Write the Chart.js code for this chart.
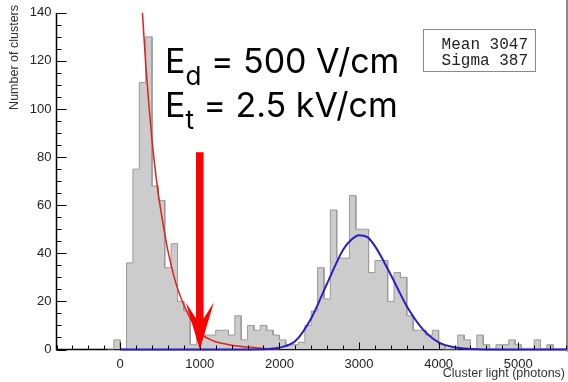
<!DOCTYPE html>
<html>
<head>
<meta charset="utf-8">
<script src="https://cdn.jsdelivr.net/npm/chart.js@4.4.0/dist/chart.umd.min.js"></script>
<style>
  html, body { margin: 0; padding: 0; background: #fff; }
  #wrap { position: relative; width: 568px; height: 382px; }
</style>
</head>
<body>
<div id="wrap"><canvas id="clusterChart"></canvas></div>
<script>
// histogram: 80 photon wide bins, first bin starts at -160
const binWidth = 80;
const firstEdge = -160;
const counts = [
  0, 4, 0, 36, 75, 111, 130, 68, 62, 34, 44, 20, 16, 2,
  6, 6, 6, 8, 8, 6, 14, 4, 10, 8, 10, 8, 6, 4, 2, 2, 3,
  10, 16, 34, 21, 58, 38, 38, 64, 50, 50, 32, 37, 37, 20, 32, 30,
  14, 8, 8, 6, 8, 2, 0, 0, 6, 4, 0, 6, 2, 0, 2, 2, 4, 2,
  0, 0, 4, 0, 2, 0, 0
];

// exponential fit (red)
const redX = [280, 320, 360, 400, 450, 500, 550, 600, 700, 800, 900, 1000, 1100, 1200, 1400, 1600, 1800, 2000];
const redY = [140, 119, 102, 87, 72, 60, 50, 41, 27.5, 18.5, 11.8, 7, 4.6, 3.2, 1.8, 1.0, 0.45, 0.2];

// gaussian fit (blue)
const blueX = [0, 1400, 1800, 2000, 2200, 2400, 2600, 2800, 2900, 3000, 3100, 3200, 3400, 3600, 3800, 4000, 4200, 4400, 4600, 5600];
const blueY = [0, 0, 0.1, 0.8, 3.5, 13, 27.5, 41.5, 45.5, 47.5, 46.8, 43, 31, 18, 8.5, 3, 0.9, 0.2, 0, 0];

const xTickLabels = [0, 1000, 2000, 3000, 4000, 5000];
const yTickLabels = [0, 20, 40, 60, 80, 100, 120, 140];

// threshold arrow
const arrowX = 1000;
const arrowTop = 82;

const statsLines = ['Mean 3047', 'Sigma 387'];

// step outline: two points per bin
const histPoints = [];
counts.forEach((c, i) => {
  const lo = firstEdge + i * binWidth;
  histPoints.push({ x: lo, y: c }, { x: lo + binWidth, y: c });
});

const toPoints = (xs, ys) => xs.map((x, i) => ({ x, y: ys[i] }));

const rootAxes = {
  id: 'rootAxes',
  beforeDatasetsDraw(chart) {
    const { ctx, chartArea: a } = chart;
    ctx.save();
    ctx.strokeStyle = '#000';
    ctx.lineWidth = 1.5;
    ctx.beginPath();
    ctx.moveTo(a.left, a.top);
    ctx.lineTo(a.left, a.bottom);
    ctx.lineTo(a.right, a.bottom);
    ctx.stroke();
    ctx.strokeStyle = '#8a8a8a';
    ctx.lineWidth = 2;
    ctx.beginPath();
    ctx.moveTo(a.right + 1, 0);
    ctx.lineTo(a.right + 1, a.bottom + 2);
    ctx.stroke();
    ctx.restore();
  },
  afterDatasetsDraw(chart) {
    const { ctx, chartArea: a, scales: { x, y } } = chart;
    ctx.save();
    ctx.strokeStyle = '#000';
    ctx.lineWidth = 1;
    ctx.beginPath();
    for (let v = -800; v <= 5600; v += 200) {
      const px = Math.round(x.getPixelForValue(v)) + 0.5;
      const len = v % 1000 === 0 ? 7 : 4;
      ctx.moveTo(px, a.bottom);
      ctx.lineTo(px, a.bottom - len);
    }
    for (let v = 0; v <= 140; v += 5) {
      const py = Math.round(y.getPixelForValue(v)) + 0.5;
      const len = v % 20 === 0 ? 10 : 5;
      ctx.moveTo(a.left, py);
      ctx.lineTo(a.left + len, py);
    }
    ctx.stroke();

    // red arrow
    const ax = x.getPixelForValue(arrowX);
    const top = y.getPixelForValue(arrowTop);
    const tip = y.getPixelForValue(0);
    ctx.fillStyle = '#ff0000';
    ctx.beginPath();
    ctx.moveTo(ax - 3.8, top);
    ctx.lineTo(ax - 3.8, tip - 31);
    ctx.lineTo(ax - 14, tip - 47);
    ctx.lineTo(ax, tip);
    ctx.lineTo(ax + 14, tip - 47);
    ctx.lineTo(ax + 3.8, tip - 31);
    ctx.lineTo(ax + 3.8, top);
    ctx.closePath();
    ctx.fill();
    ctx.restore();
  },
  afterDraw(chart) {
    const ctx = chart.ctx;
    ctx.save();
    // field labels
    ctx.fillStyle = '#000';
    ctx.textBaseline = 'alphabetic';
    const lines = [
      { y: 73, parts: [['E', 34, 0], ['d', 26, 12], [' = 500 V/cm', 34, 0]] },
      { y: 117, parts: [['E', 34, 0], ['t', 26, 12], [' = 2.5 kV/cm', 34, 0]] }
    ];
    lines.forEach(line => {
      let px = 165;
      line.parts.forEach(([t, size, dy]) => {
        ctx.font = size + 'px Inter';
        ctx.fillText(t, px, line.y + dy);
        px += ctx.measureText(t).width;
      });
    });

    // stats box
    ctx.strokeStyle = '#8a8a8a';
    ctx.lineWidth = 1;
    ctx.strokeRect(423.5, 29.5, 112, 42);
    ctx.font = '16px "Liberation Mono"';
    ctx.textAlign = 'right';
    ctx.fillStyle = '#222';
    ctx.fillText(statsLines[0], 528, 49);
    ctx.fillText(statsLines[1], 528, 65);

    // axis titles
    ctx.font = '12.5px "Liberation Sans"';
    ctx.fillStyle = '#333';
    ctx.fillText('Cluster light (photons)', 565, 377);
    ctx.translate(18, 5);
    ctx.rotate(-Math.PI / 2);
    ctx.fillText('Number of clusters', 0, 0);
    ctx.restore();
  }
};

new Chart(document.getElementById('clusterChart'), {
  type: 'line',
  data: {
    datasets: [
      {
        data: toPoints(blueX, blueY),
        borderColor: '#2a1fc0',
        borderWidth: 2,
        pointRadius: 0,
        cubicInterpolationMode: 'monotone',
        clip: false,
        order: 1
      },
      {
        data: toPoints(redX, redY),
        borderColor: '#e0201c',
        borderWidth: 1.5,
        pointRadius: 0,
        cubicInterpolationMode: 'monotone',
        clip: false,
        order: 2
      },
      {
        data: histPoints,
        borderColor: '#9a9a9a',
        borderWidth: 1,
        backgroundColor: '#cccccc',
        fill: 'origin',
        pointRadius: 0,
        tension: 0,
        order: 3
      }
    ]
  },
  options: {
    responsive: true,
    maintainAspectRatio: false,
    animation: false,
    layout: { padding: { top: 5, right: 2, left: 0, bottom: 0 } },
    plugins: { legend: { display: false }, tooltip: { enabled: false } },
    scales: {
      x: {
        type: 'linear',
        min: -800,
        max: 5600,
        afterBuildTicks: s => { s.ticks = xTickLabels.map(v => ({ value: v })); },
        afterFit: s => { s.height = 32.5; },
        grid: { display: false, drawTicks: false },
        border: { display: false },
        ticks: { padding: 7, maxRotation: 0, autoSkip: false, color: '#222', callback: v => String(v), font: { family: 'Liberation Sans', size: 13 } }
      },
      y: {
        min: 0,
        max: 140,
        afterBuildTicks: s => { s.ticks = yTickLabels.map(v => ({ value: v })); },
        afterFit: s => { s.width = 56.5; },
        grid: { display: false, drawTicks: false },
        border: { display: false },
        ticks: { padding: 5, color: '#222', callback: v => String(v), font: { family: 'Liberation Sans', size: 13 } }
      }
    }
  },
  plugins: [rootAxes]
});
</script>
</body>
</html>
